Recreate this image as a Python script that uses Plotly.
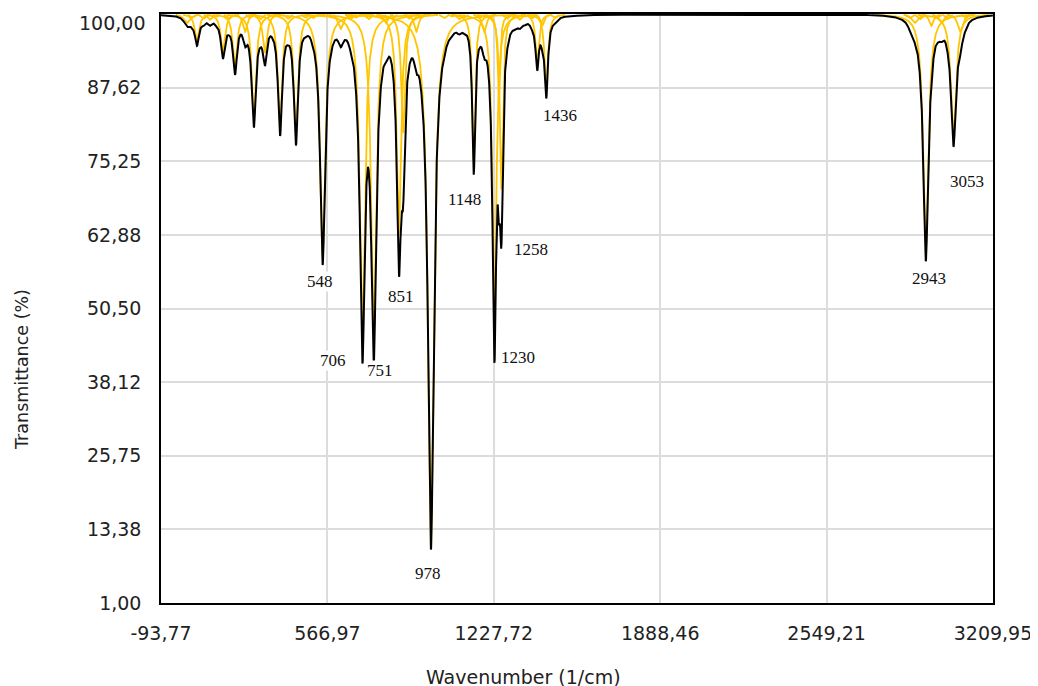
import numpy as np
import plotly.graph_objects as go

# ---- data: band positions (1/cm), depths (% T), half widths (1/cm)
peak_pos = [10, 49, 100, 152, 200, 240, 275, 319, 379, 442, 548, 620, 706, 751, 800,
            851, 868, 920, 978, 1148, 1190, 1230, 1248, 1258, 1330, 1400, 1420, 1436,
            2900, 2943, 2965, 3005, 3053, 3080]
peak_depth = [1.5, 4.6, 1.0, 6.5, 9.0, 3.0, 17.5, 6.5, 19.0, 20.5, 41.0, 2.5, 54.0, 54.0, 1.5,
              37.0, 20.0, 3.0, 89.0, 25.0, 3.0, 54.5, 14.0, 29.5, 1.0, 8.0, 2.0, 13.0,
              1.5, 40.5, 2.0, 1.5, 21.0, 3.0]
peak_hwhm = [15, 10, 10, 10, 10, 10, 10, 10, 10, 10, 12, 12, 12, 12, 10,
             10, 9, 10, 14, 7, 10, 9, 6, 7, 10, 8, 8, 8,
             15, 12, 10, 12, 12, 12]

# weak modes only visible as yellow component curves near 100 %
weak_pos = [30, 75, 125, 175, 260, 300, 350, 410, 480, 510, 580, 660, 680, 730, 780,
            830, 890, 940, 1030, 1060, 1090, 1110, 1170, 1210, 1280, 1310, 1350, 1380,
            1470, 2880, 2920, 2990, 3030, 3100]
weak_depth = [0.6, 0.8, 0.5, 0.7, 0.6, 0.9, 0.5, 0.8, 0.6, 0.7, 0.5, 0.8, 0.6, 0.9, 0.7,
              0.5, 0.8, 0.6, 0.7, 0.5, 0.9, 0.6, 0.7, 0.5, 0.8, 0.6, 0.5, 0.7,
              0.6, 0.7, 0.9, 0.6, 0.8, 0.5]
weak_hwhm = [10] * len(weak_pos)

labels = ["548", "706", "751", "851", "978", "1148", "1230", "1258", "1436", "2943", "3053"]
label_x = [537.6, 589.2, 775.8, 859.2, 966.4, 1113.3, 1323.8, 1375.4, 1490.6, 2955.8, 3106.7]
label_y = [55.1, 41.7, 40.0, 52.6, 5.9, 68.9, 42.3, 60.5, 82.9, 55.5, 71.9]

x_ticks = [-93.77, 566.97, 1227.72, 1888.46, 2549.21, 3209.95]
x_ticktext = ["-93,77", "566,97", "1227,72", "1888,46", "2549,21", "3209,95"]
y_ticks = [1.00, 13.38, 25.75, 38.12, 50.50, 62.88, 75.25, 87.62, 100.00]
y_ticktext = ["1,00", "13,38", "25,75", "38,12", "50,50", "62,88", "75,25", "87,62", "100,00"]

XMIN, XMAX = -93.77, 3209.95

all_pos = peak_pos + weak_pos
all_depth = peak_depth + weak_depth
all_w = peak_hwhm + weak_hwhm


def lorentz(x, x0, w):
    return 1.0 / (1.0 + ((x - x0) / w) ** 2)


xs = np.arange(-93.5, 3209.95, 0.5)
absorb = np.zeros_like(xs)
for p, d, w in zip(all_pos, all_depth, all_w):
    absorb += d * lorentz(xs, p, w)
total = 100.0 - absorb

# component curves, concatenated into one trace with gaps
cx, cy = [], []
for p, d, w in zip(all_pos, all_depth, all_w):
    span = w * np.sqrt(max(d / 0.15 - 1.0, 1.0))
    lx = np.arange(max(XMIN, p - span), min(XMAX, p + span), 0.5)
    cx.extend(lx.tolist())
    cy.extend((100.0 - d * lorentz(lx, p, w)).tolist())
    cx.append(None)
    cy.append(None)

fig = go.Figure()
fig.add_trace(go.Scatter(x=cx, y=cy, mode="lines", line=dict(color="#FFC600", width=1.8),
                         hoverinfo="skip", showlegend=False))
fig.add_trace(go.Scatter(x=xs, y=total, mode="lines", line=dict(color="black", width=2),
                         showlegend=False))

for t, lx, ly in zip(labels, label_x, label_y):
    fig.add_annotation(x=lx, y=ly, xref="x", yref="y", text=t, showarrow=False,
                       font=dict(family="Liberation Serif", size=17, color="#111111"),
                       bgcolor="white", borderpad=0)

tick_font = dict(family="DejaVu Sans", size=19, color="#222222")

# the top y tick label sits a little below its grid line (kept inside the image)
y_ticktext_axis = y_ticktext[:-1] + [""]
fig.add_annotation(x=0, y=y_ticks[-1], xref="paper", yref="y", text=y_ticktext[-1],
                   showarrow=False, xanchor="right", yanchor="middle",
                   xshift=-14, yshift=-9, font=tick_font)

fig.add_annotation(x=(22 - 161) / 832, y=(603 - 370) / 589, xref="paper", yref="paper",
                   text="Transmittance (%)", textangle=-90, showarrow=False,
                   font=dict(family="DejaVu Sans", size=17.5, color="#222222"),
                   xanchor="center", yanchor="middle")
fig.add_annotation(x=(523 - 161) / 832, y=(603 - 677) / 589, xref="paper", yref="paper",
                   text="Wavenumber (1/cm)", showarrow=False,
                   font=dict(family="DejaVu Sans", size=19, color="#222222"),
                   xanchor="center", yanchor="middle")

axis_common = dict(showline=True, linecolor="black", linewidth=1.5, mirror=True,
                   showgrid=True, gridcolor="#dcdcdc", gridwidth=2, zeroline=False,
                   ticks="", ticklabeloverflow="allow", tickfont=tick_font)
fig.update_xaxes(range=[XMIN, XMAX], tickvals=x_ticks, ticktext=x_ticktext,
                 ticklabelstandoff=12, **axis_common)
fig.update_yaxes(range=[1, 100], tickvals=y_ticks, ticktext=y_ticktext_axis,
                 ticklabelstandoff=14, **axis_common)

# page body has an 8px margin, so the figure margins are offset by it
fig.update_layout(width=1038, height=686, paper_bgcolor="white", plot_bgcolor="white",
                  margin=dict(l=153, r=53, t=6, b=91, autoexpand=False),
                  showlegend=False)

fig.write_html("out.html")
